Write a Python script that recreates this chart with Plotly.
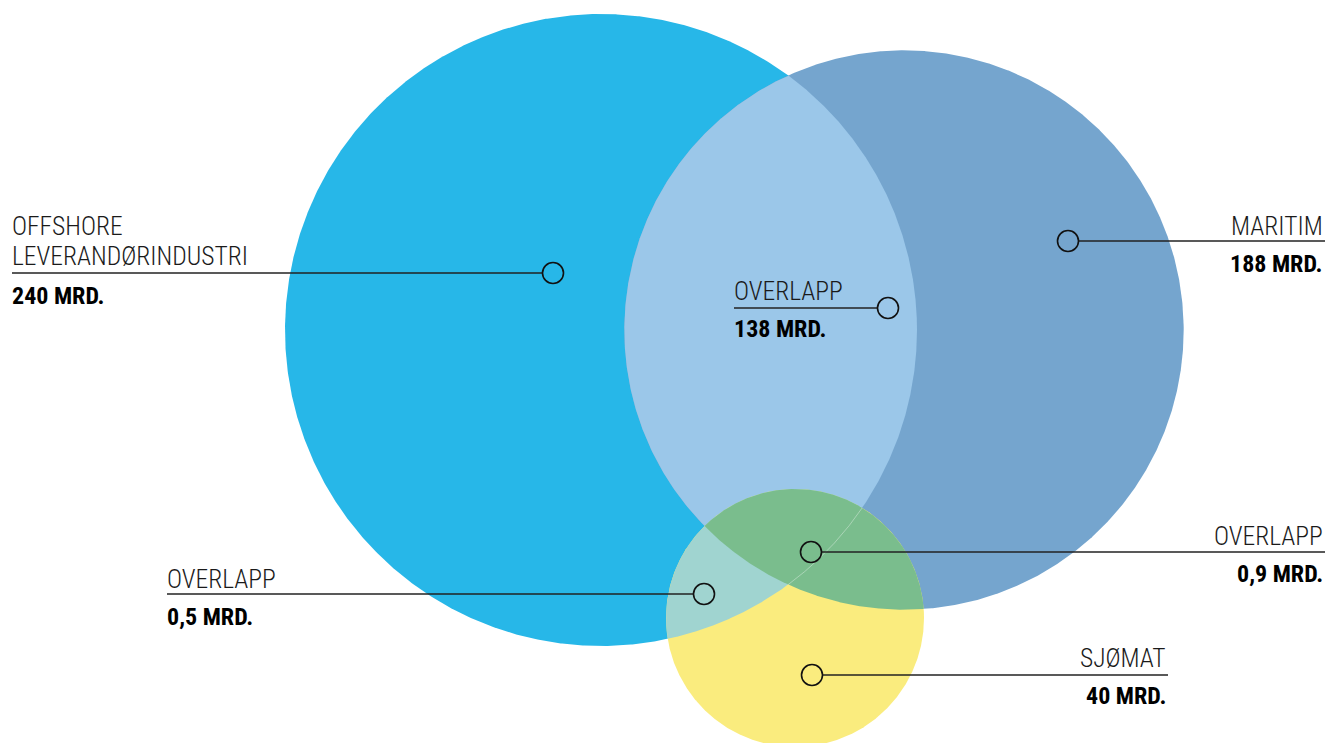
import numpy as np
import plotly.graph_objects as go

# ---------------- data ----------------
set_names = ["OFFSHORE<br>LEVERANDØRINDUSTRI", "MARITIM", "SJØMAT"]
set_values = [240, 188, 40]            # mrd. kr
overlap_names = ["OVERLAPP", "OVERLAPP", "OVERLAPP"]
overlap_values = [138, 0.5, 0.9]       # mrd. kr

# ---------------- layout constants (pixel space) ----------------
W, H = 1327, 743
centers = [(601, 330), (904, 330), (795, 618)]
k = 316 / np.sqrt(set_values[0])       # circle area proportional to value
radii = [k * np.sqrt(v) for v in set_values]

col_set = ["#27B7E8", "#75A5CE", "#FAEC7E"]
col_lens = "#9BC7E9"      # offshore ∩ maritim
col_os = "#A0D4D0"        # offshore ∩ sjømat
col_ms = "#7ABD8D"        # maritim ∩ sjømat

FONT = "Roboto Condensed, DejaVu Sans Condensed, sans-serif"
TXT = "#1a1a1a"
MR = 10.5  # marker radius in px


def region(disks, p, n=1440):
    th = np.linspace(0, 2 * np.pi, n)
    ux, uy = np.cos(th), np.sin(th)
    t = np.full(n, np.inf)
    for (cx, cy), r in disks:
        dx, dy = p[0] - cx, p[1] - cy
        b = dx * ux + dy * uy
        ti = -b + np.sqrt(b * b - (dx * dx + dy * dy - r * r))
        t = np.minimum(t, ti)
    return p[0] + t * ux, p[1] + t * uy


def fill_trace(x, y, color):
    return go.Scatter(x=x, y=y, mode="lines", fill="toself", fillcolor=color,
                      line=dict(width=0, color=color), hoverinfo="skip")


fig = go.Figure()
D = list(zip(centers, radii))

for i in range(2):
    x, y = region([D[i]], centers[i])
    fig.add_trace(fill_trace(x, y, col_set[i]))
x, y = region([D[0], D[1]], (770, 330))
fig.add_trace(fill_trace(x, y, col_lens))
x, y = region([D[2]], centers[2])
fig.add_trace(fill_trace(x, y, col_set[2]))
x, y = region([D[0], D[2]], (720, 590))
fig.add_trace(fill_trace(x, y, col_os))
x, y = region([D[1], D[2]], (830, 560))
fig.add_trace(fill_trace(x, y, col_ms))

# faint offshore arc inside maritim ∩ sjømat
th = np.linspace(0, 2 * np.pi, 4000)
ax = centers[0][0] + radii[0] * np.cos(th)
ay = centers[0][1] + radii[0] * np.sin(th)
inside = (((ax - centers[1][0]) ** 2 + (ay - centers[1][1]) ** 2) < radii[1] ** 2) & \
         (((ax - centers[2][0]) ** 2 + (ay - centers[2][1]) ** 2) < radii[2] ** 2)
fig.add_trace(go.Scatter(x=ax[inside], y=ay[inside], mode="lines",
                         line=dict(width=0.8, color="rgba(255,255,255,0.45)"),
                         hoverinfo="skip"))

# ---------------- labels ----------------
labels = [
    (set_names[0], set_values[0], (553, 273), 12, "left", [226, 256], 296),
    (overlap_names[0], overlap_values[0], (888, 308), 734, "left", [291], 329),
    (set_names[1], set_values[1], (1068, 241), 1325, "right", [226], 264),
    (overlap_names[1], overlap_values[1], (704, 594), 167, "left", [579], 617),
    (overlap_names[2], overlap_values[2], (811, 552), 1325, "right", [536], 574),
    (set_names[2], set_values[2], (812, 675), 1168, "right", [658], 696),
]


def fmt(v):
    s = ("%g" % v).replace(".", ",")
    return f"{s} MRD."


for title, val, (mx, my), xend, side, tys, vy in labels:
    xe = mx - MR if xend < mx else mx + MR
    xs = -2 if side == "left" else 0
    fig.add_trace(go.Scatter(x=[xend, xe], y=[my, my], mode="lines",
                             line=dict(color="#222222", width=1.4), hoverinfo="skip"))
    fig.add_trace(go.Scatter(x=[mx], y=[my], mode="markers",
                             marker=dict(symbol="circle-open", size=2 * MR,
                                         line=dict(color="#111111", width=1.6),
                                         color="#111111"),
                             hoverinfo="skip"))
    for t, ty in zip(title.split("<br>"), tys):
        fig.add_annotation(x=xend, y=ty, text=t, showarrow=False, xshift=xs,
                           xanchor=side, yanchor="middle",
                           font=dict(family=FONT, size=25.5, color=TXT, weight=300))
    fig.add_annotation(x=xend, y=vy, text=fmt(val), showarrow=False, xshift=xs,
                       xanchor=side, yanchor="middle",
                       font=dict(family=FONT, size=24, color="#000000", weight=700))

fig.update_layout(
    width=W, height=H, margin=dict(l=0, r=0, t=0, b=0),
    paper_bgcolor="white", plot_bgcolor="white", showlegend=False,
    xaxis=dict(range=[0, W], visible=False, fixedrange=True),
    yaxis=dict(range=[H, 0], visible=False, fixedrange=True),
)

fig.write_html("out.html")
